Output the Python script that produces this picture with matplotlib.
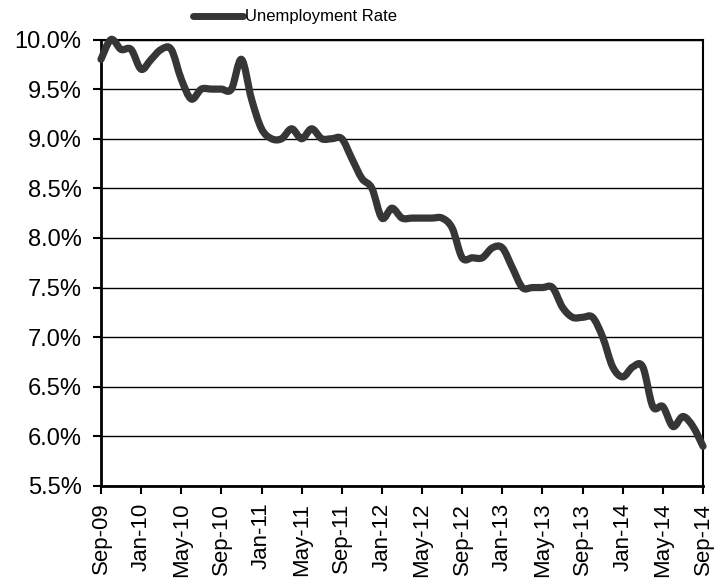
"""Taxa de desemprego mensal (Sep-09 a Sep-14) com linha suavizada."""

import numpy as np
import matplotlib
matplotlib.use("Agg")
import matplotlib.pyplot as plt
from matplotlib.path import Path
from matplotlib.patches import PathPatch
from matplotlib.lines import Line2D
from matplotlib.ticker import FuncFormatter

plt.rcParams["font.family"] = ["Liberation Sans", "DejaVu Sans"]

# taxa mensal (%), de Sep-09 até Sep-14
rate = [
    9.8, 10.0, 9.9, 9.9,                                              # 2009
    9.7, 9.8, 9.9, 9.9, 9.6, 9.4, 9.5, 9.5, 9.5, 9.5, 9.8, 9.4,       # 2010
    9.1, 9.0, 9.0, 9.1, 9.0, 9.1, 9.0, 9.0, 9.0, 8.8, 8.6, 8.5,       # 2011
    8.2, 8.3, 8.2, 8.2, 8.2, 8.2, 8.2, 8.1, 7.8, 7.8, 7.8, 7.9,       # 2012
    7.9, 7.7, 7.5, 7.5, 7.5, 7.5, 7.3, 7.2, 7.2, 7.2, 7.0, 6.7,       # 2013
    6.6, 6.7, 6.7, 6.3, 6.3, 6.1, 6.2, 6.1, 5.9,                      # 2014
]
tick_labels = [
    "Sep-09", "Jan-10", "May-10", "Sep-10", "Jan-11", "May-11", "Sep-11",
    "Jan-12", "May-12", "Sep-12", "Jan-13", "May-13", "Sep-13", "Jan-14",
    "May-14", "Sep-14",
]
series_name = "Unemployment Rate"

LINE_COLOR = "#363636"


def smooth_path(x, y):
    # curva de Bézier cúbica passando pelos pontos (estilo "linha suavizada")
    n = len(x)
    verts = [(x[0], y[0])]
    codes = [Path.MOVETO]
    for i in range(n - 1):
        a = max(i - 1, 0)
        b = min(i + 2, n - 1)
        c1 = (x[i] + (x[i + 1] - x[a]) / 6, y[i] + (y[i + 1] - y[a]) / 6)
        c2 = (x[i + 1] - (x[b] - x[i]) / 6, y[i + 1] - (y[b] - y[i]) / 6)
        verts += [c1, c2, (x[i + 1], y[i + 1])]
        codes += [Path.CURVE4] * 3
    return Path(verts, codes)


fig = plt.figure(figsize=(7.19, 5.78), dpi=100)
ax = fig.add_axes([101 / 719, 1 - 486 / 578, 602 / 719, 446.5 / 578])

x = np.arange(len(rate), dtype=float)
y = np.array(rate)
patch = PathPatch(smooth_path(x, y), fill=False, edgecolor=LINE_COLOR,
                  lw=5.2, capstyle="round", joinstyle="round",
                  clip_on=False, zorder=3)
ax.add_patch(patch)

ax.set_xlim(0, len(rate) - 1)
ax.set_ylim(5.5, 10.0)
ax.set_yticks(np.arange(5.5, 10.01, 0.5))
ax.yaxis.set_major_formatter(FuncFormatter(lambda v, _: f"{v:.1f}%"))
ax.set_xticks(np.arange(0, len(rate), 4))
ax.set_xticklabels(tick_labels, rotation=90, va="top", ha="center")

ax.grid(axis="y", color="black", lw=1.0, zorder=1)
ax.set_axisbelow(True)
for s in ax.spines.values():
    s.set_color("black")
    s.set_linewidth(1.5)
ax.spines["left"].set_linewidth(2)
ax.spines["bottom"].set_linewidth(2)

ax.tick_params(axis="y", direction="out", length=6, width=1.5,
               pad=8, labelsize=17)
ax.tick_params(axis="x", direction="out", length=6, width=1.5,
               pad=6, labelsize=16)

handle = Line2D([], [], color=LINE_COLOR, lw=5, solid_capstyle="round")
fig.legend([handle], [series_name], loc="center left",
           bbox_to_anchor=(193 / 719, 1 - 17 / 578), frameon=False,
           fontsize=12, handlelength=3.0, handletextpad=0.1,
           borderpad=0, borderaxespad=0)

fig.savefig("out.png", dpi=100)
